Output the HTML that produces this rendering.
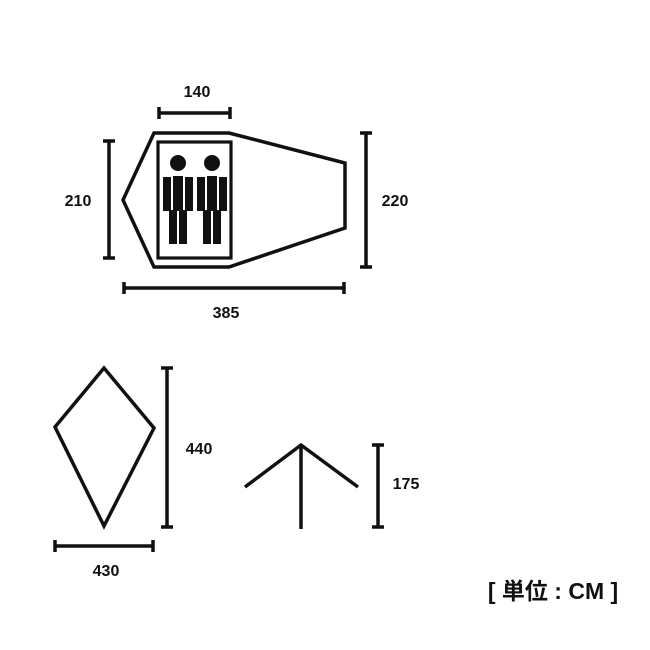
<!DOCTYPE html>
<html><head><style>
html,body{margin:0;padding:0;background:#fff;}
svg{display:block}
text{font-family:"Liberation Sans","Noto Sans CJK JP",sans-serif;font-weight:bold;fill:#111;}
</style></head><body>
<svg width="650" height="650" viewBox="0 0 650 650" xmlns="http://www.w3.org/2000/svg">
<g stroke="#111" stroke-width="3.5" fill="none" stroke-linejoin="miter">
<polygon points="154,133 229,133 345,163 345,228 229,267 154,267 123,200"/>
<rect x="158" y="142" width="73" height="116" stroke-width="3.2"/>
<!-- 140 -->
<line x1="159" y1="113" x2="230" y2="113"/><line x1="159" y1="107" x2="159" y2="119"/><line x1="230" y1="107" x2="230" y2="119"/>
<!-- 210 -->
<line x1="109" y1="141" x2="109" y2="258"/><line x1="103" y1="141" x2="115" y2="141"/><line x1="103" y1="258" x2="115" y2="258"/>
<!-- 220 -->
<line x1="366" y1="133" x2="366" y2="267"/><line x1="360" y1="133" x2="372" y2="133"/><line x1="360" y1="267" x2="372" y2="267"/>
<!-- 385 -->
<line x1="124" y1="288" x2="344" y2="288"/><line x1="124" y1="282" x2="124" y2="294"/><line x1="344" y1="282" x2="344" y2="294"/>
<!-- diamond -->
<polygon points="104,368 154,428 104,526 55,427"/>
<line x1="167" y1="368" x2="167" y2="527"/><line x1="161" y1="368" x2="173" y2="368"/><line x1="161" y1="527" x2="173" y2="527"/>
<line x1="55" y1="546" x2="153" y2="546"/><line x1="55" y1="540" x2="55" y2="552"/><line x1="153" y1="540" x2="153" y2="552"/>
<!-- stick -->
<polyline points="245,487 301,445 358,487"/>
<line x1="301" y1="445" x2="301" y2="529"/>
<line x1="378" y1="445" x2="378" y2="527"/><line x1="372" y1="445" x2="384" y2="445"/><line x1="372" y1="527" x2="384" y2="527"/>
</g>
<g fill="#111">
<circle cx="178" cy="163" r="8"/><circle cx="212" cy="163" r="8"/>
<rect x="163" y="177" width="8" height="34"/><rect x="173" y="176" width="10" height="35"/><rect x="185" y="177" width="8" height="34"/>
<rect x="169" y="210" width="8" height="34"/><rect x="179" y="210" width="8" height="34"/>
<rect x="197" y="177" width="8" height="34"/><rect x="207" y="176" width="10" height="35"/><rect x="219" y="177" width="8" height="34"/>
<rect x="203" y="210" width="8" height="34"/><rect x="213" y="210" width="8" height="34"/>
</g>
<g font-size="16" text-anchor="middle">
<text x="197" y="97">140</text>
<text x="78" y="206">210</text>
<text x="395" y="206">220</text>
<text x="226" y="318">385</text>
<text x="199" y="454">440</text>
<text x="106" y="576">430</text>
<text x="406" y="489">175</text>
</g>
<text x="553" y="599" font-size="23" text-anchor="middle">[ 単位 : CM ]</text>
</svg>
</body></html>
